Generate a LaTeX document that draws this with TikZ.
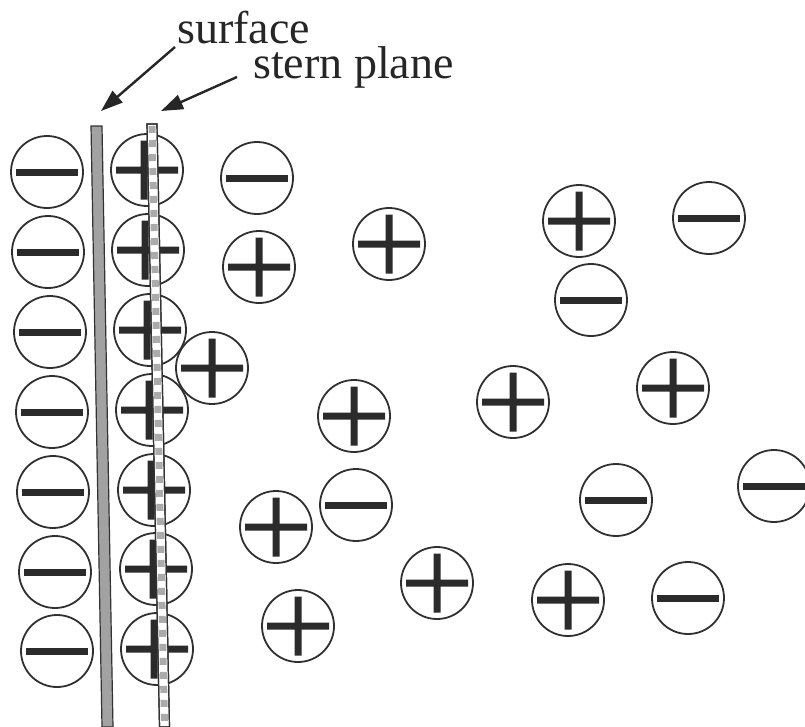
\documentclass[tikz,border=0pt]{standalone}
\usepackage{fontspec}
\setmainfont{Liberation Serif}
\newfontfamily\lblfont{Liberation Serif}
\usetikzlibrary{arrows.meta}
\definecolor{barcol}{HTML}{2B2B2B}
\definecolor{ringcol}{HTML}{303030}
\definecolor{surfcol}{HTML}{A2A2A2}
\definecolor{sterncol}{HTML}{ABABAB}
\tikzset{
  ion/.style={circle, draw=ringcol, line width=1.8pt, minimum size=72pt, inner sep=0pt, fill=white},
  negion/.style={ion, path picture={\fill[barcol, shift={(path picture bounding box.center)}] (-31pt,-3.5pt) rectangle (31pt,3.5pt);}},
  posion/.style={ion, path picture={\fill[barcol, shift={(path picture bounding box.center)}] (-31pt,-3.5pt) rectangle (31pt,3.5pt) (-3.5pt,-29.5pt) rectangle (3.5pt,29.5pt);}},
  posionl/.style={ion, path picture={\fill[barcol, shift={(path picture bounding box.center)}] (-31pt,-3.5pt) rectangle (31pt,3.5pt) (-6.5pt,-29.5pt) rectangle (0.5pt,29.5pt);}},
  lbl/.style={anchor=base west, inner sep=0pt, font=\lblfont\fontsize{46}{50}\selectfont, text=black!85},
  pointer/.style={line width=2.4pt, draw=black!85, -{Triangle[length=22pt,width=15pt]}},
}
\begin{document}
\begin{tikzpicture}[x=1pt, y=-1pt]
\useasboundingbox (0,0) rectangle (805,726);
\clip (0,0) rectangle (805,726);
\fill[white] (0,0) rectangle (805,726);
% left column: negative ions
\node[negion] (m1) at (47,172) {};
\node[negion] (m2) at (48,252) {};
\node[negion] (m3) at (50,332) {};
\node[negion] (m4) at (52,412) {};
\node[negion] (m5) at (53,492) {};
\node[negion] (m6) at (55,572) {};
\node[negion] (m7) at (57,651) {};
% stern column: positive ions
\node[posionl] (p1) at (147,170) {};
\node[posionl] (p2) at (148,250) {};
\node[posionl] (p3) at (150,330) {};
\node[posionl] (p4) at (152,410) {};
\node[posionl] (p5) at (154,490) {};
\node[posionl] (p6) at (156,569) {};
\node[posionl] (p7) at (157,649) {};
% diffuse layer
\node[negion] (a) at (257,178) {};
\node[posion] (b) at (259,267) {};
\node[posion] (c) at (389,244) {};
\node[posion] (d) at (579,221) {};
\node[negion] (e) at (709,218) {};
\node[negion] (f) at (591,300) {};
\node[posion] (g) at (212,368) {};
\node[posion] (h) at (354,416) {};
\node[posion] (i) at (513,402) {};
\node[posion] (j) at (673,388) {};
\node[negion] (k) at (356,505) {};
\node[posion] (l) at (276,527) {};
\node[negion] (m) at (616,500) {};
\node[negion] (n) at (774,486) {};
\node[posion] (o) at (437,583) {};
\node[posion] (q) at (568,600) {};
\node[negion] (r) at (688,598) {};
\node[posion] (s) at (298,626) {};
% surface plane
\filldraw[fill=surfcol, draw=black!80, line width=1.2pt] (91,126) -- (102,126) -- (113,727) -- (102,727) -- cycle;
% stern plane
\filldraw[fill=white, draw=black!80, line width=1.2pt] (147,124) -- (157,124) -- (169.5,727) -- (159.5,727) -- cycle;
\draw[sterncol, line width=7pt, dash pattern=on 7pt off 7pt] (152,126) -- (164.5,725);
\draw[black!80, line width=1.2pt] (147,124) -- (157,124) -- (169.5,727) -- (159.5,727) -- cycle;
% labels and pointers
\node[lbl] (tsurf) at (177,43) {surface};
\node[lbl] (tstern) at (253,78) {stern plane};
\coordinate (surftip) at (101,111);
\coordinate (sterntip) at (161,111);
\draw[pointer] (tsurf.base west) ++(-2,4) -- (surftip);
\draw[pointer] (tstern.base west) ++(-16,-1) -- (sterntip);
\end{tikzpicture}
\end{document}
